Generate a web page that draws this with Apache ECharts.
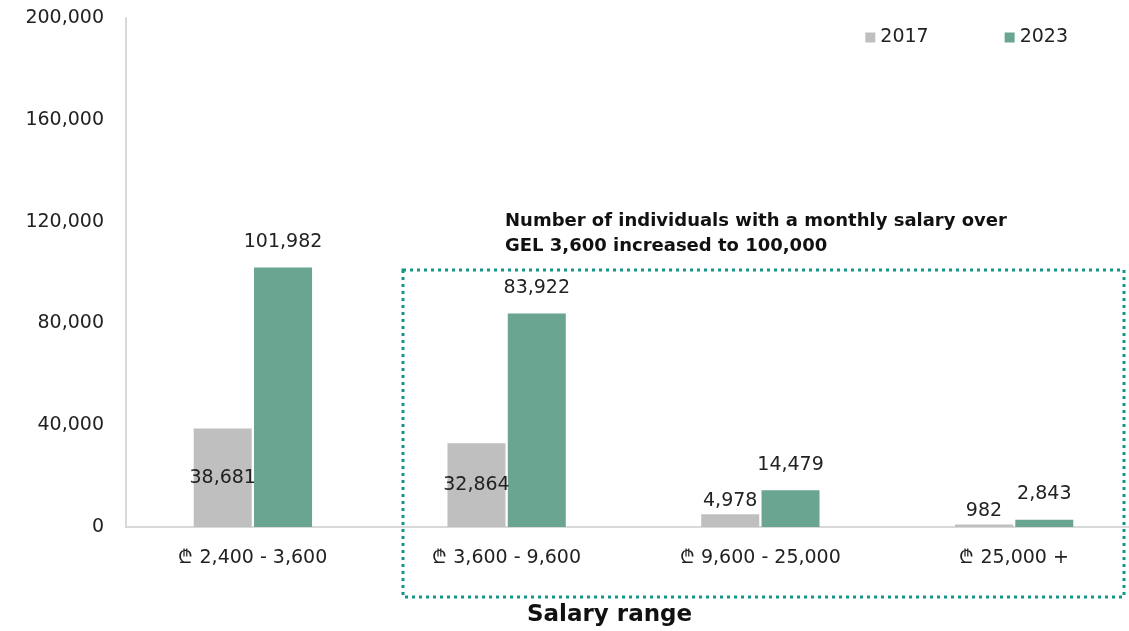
<!DOCTYPE html>
<html>
<head>
<meta charset="utf-8">
<script src="https://cdn.jsdelivr.net/npm/echarts@6/dist/echarts.min.js"></script>
<style>
  html, body { margin: 0; padding: 0; background: #fff; }
  #chart { width: 1129px; height: 631px; }
</style>
</head>
<body>
<div id="chart"></div>
<script>
const categories = ['₾ 2,400 - 3,600', '₾ 3,600 - 9,600', '₾ 9,600 - 25,000', '₾ 25,000 +']
const values2017 = [38681, 32864, 4978, 982]
const values2023 = [101982, 83922, 14479, 2843]
const yTicks = [0, 40000, 80000, 120000, 160000, 200000]

const FONT = 'DejaVu Sans'
const fmt = (v) => v.toLocaleString('en-US')

const chart = echarts.init(document.getElementById('chart'))

// small values get their label on top, large 2017 bars have it inside
const label2017 = values2017.map((v, i) => ({
  value: v,
  label: i < 2
    ? { position: 'inside' }
    : { position: 'top', distance: 4 }
}))

chart.setOption({
  animation: false,
  textStyle: { fontFamily: FONT },
  legend: {
    data: ['2017', '2023'],
    top: 23,
    right: 56,
    itemWidth: 10,
    itemHeight: 10,
    itemGap: 76,
    icon: 'rect',
    textStyle: { fontSize: 19, color: '#222', fontFamily: FONT }
  },
  grid: {
    top: 18,
    left: 126,
    width: 1015,
    bottom: 104,
    containLabel: false,
    outerBoundsMode: 'none'
  },
  xAxis: {
    type: 'category',
    data: categories,
    axisTick: { show: false },
    axisLine: { show: true, lineStyle: { color: '#d9d9d9', width: 2 } },
    axisLabel: { fontSize: 19, color: '#222', margin: 22, fontFamily: FONT }
  },
  yAxis: {
    type: 'value',
    min: 0,
    max: 200000,
    interval: 40000,
    splitLine: { show: false },
    axisLine: { show: true, lineStyle: { color: '#d9d9d9', width: 2 } },
    axisTick: { show: false },
    axisLabel: {
      fontSize: 19,
      color: '#222',
      margin: 22,
      fontFamily: FONT,
      formatter: (v) => yTicks.includes(v) ? fmt(v) : ''
    }
  },
  series: [
    {
      name: '2017',
      type: 'bar',
      data: label2017,
      barWidth: 58,
      barGap: '4%',
      itemStyle: { color: '#bfbfbf' },
      label: {
        show: true,
        fontSize: 19,
        color: '#222',
        fontFamily: FONT,
        formatter: (p) => fmt(p.value)
      }
    },
    {
      name: '2023',
      type: 'bar',
      data: values2023,
      barWidth: 58,
      itemStyle: { color: '#69a591' },
      label: {
        show: true,
        position: 'top',
        distance: 16,
        fontSize: 19,
        color: '#222',
        fontFamily: FONT,
        formatter: (p) => fmt(p.value)
      }
    }
  ],
  graphic: [
    {
      type: 'rect',
      shape: { x: 403, y: 270, width: 721, height: 327 },
      style: {
        fill: 'none',
        stroke: '#13958a',
        lineWidth: 3,
        lineDash: [3, 4]
      },
      z: 10
    },
    {
      type: 'text',
      left: 505,
      top: 209,
      style: {
        text: 'Number of individuals with a monthly salary over\nGEL 3,600 increased to 100,000',
        font: 'bold 18px ' + FONT,
        fill: '#111',
        lineHeight: 25
      }
    },
    {
      type: 'text',
      left: 527,
      top: 604,
      style: {
        text: 'Salary range',
        font: 'bold 23px ' + FONT,
        fill: '#111'
      }
    }
  ]
})
</script>
</body>
</html>
